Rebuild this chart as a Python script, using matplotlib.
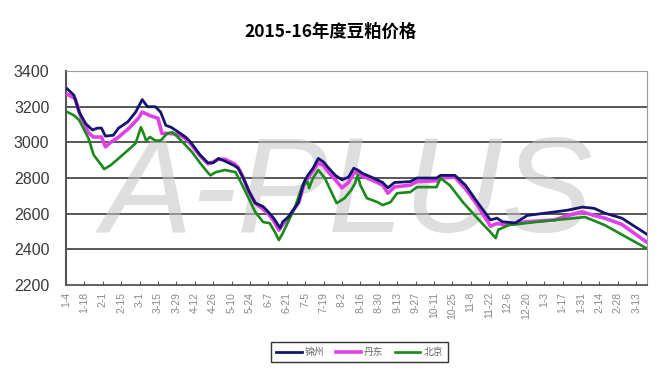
#!/usr/bin/env python3
"""2015-16年度豆粕价格 — three-city soybean meal price lines."""
import matplotlib

matplotlib.use("Agg")

import matplotlib.pyplot as plt  # noqa: E402

plt.rcParams["font.family"] = ["Liberation Sans", "Noto Sans CJK SC", "DejaVu Sans"]

# x values are day offsets from 1-4
TICK_LABELS = ["1-4", "1-18", "2-1", "2-15", "3-1", "3-15", "3-29", "4-12",
               "4-26", "5-10", "5-24", "6-7", "6-21", "7-5", "7-19", "8-2",
               "8-16", "8-30", "9-13", "9-27", "10-11", "10-25", "11-8",
               "11-22", "12-6", "12-20", "1-3", "1-17", "1-31", "2-14",
               "2-28", "3-13"]
TICK_DAYS = [14 * i for i in range(len(TICK_LABELS))]

JZ_DAYS = [1, 6, 10, 15, 20, 24, 27, 30, 36, 40, 47, 53, 58, 62, 68, 72, 76,
           80, 87, 91, 95, 102, 108, 112, 116, 121, 128, 131, 135, 139, 144,
           150, 154, 158, 163, 165, 169, 173, 177, 181, 184, 188, 192, 196,
           200, 205, 210, 215, 219, 222, 226, 234, 241, 245, 250, 262, 267,
           282, 285, 296, 304, 313, 323, 328, 332, 342, 351, 372, 382, 393,
           402, 410, 423, 442]
JZ_VALS = [3300, 3265, 3170, 3105, 3070, 3080, 3080, 3035, 3040, 3080, 3115,
           3170, 3240, 3200, 3200, 3170, 3095, 3085, 3050, 3030, 3000, 2930,
           2885, 2885, 2910, 2895, 2870, 2855, 2800, 2730, 2660, 2640, 2610,
           2575, 2520, 2555, 2580, 2620, 2665, 2775, 2815, 2855, 2910, 2890,
           2855, 2815, 2790, 2805, 2855, 2845, 2825, 2800, 2775, 2745, 2775,
           2780, 2800, 2800, 2815, 2815, 2760, 2665, 2565, 2575, 2555, 2548,
           2590, 2610, 2620, 2637, 2630, 2603, 2575, 2485]

DD_DAYS = [1, 7, 11, 17, 21, 27, 30, 34, 40, 48, 55, 58, 64, 70, 73, 80, 87,
           91, 95, 102, 108, 112, 116, 121, 128, 131, 135, 139, 144, 150, 154,
           158, 162, 165, 169, 173, 177, 181, 184, 188, 192, 196, 200, 205,
           210, 215, 219, 222, 226, 234, 241, 245, 250, 262, 267, 282, 285,
           296, 304, 313, 323, 328, 332, 342, 351, 372, 382, 393, 402, 410,
           423, 442]
DD_VALS = [3270, 3245, 3150, 3055, 3030, 3030, 2975, 3000, 3030, 3080, 3135,
           3170, 3150, 3135, 3050, 3050, 3040, 3020, 2990, 2925, 2880, 2890,
           2905, 2905, 2880, 2860, 2800, 2725, 2660, 2625, 2600, 2560, 2508,
           2540, 2575, 2620, 2660, 2760, 2800, 2840, 2885, 2870, 2830, 2790,
           2745, 2775, 2830, 2830, 2810, 2785, 2760, 2715, 2750, 2760, 2780,
           2785, 2800, 2805, 2740, 2650, 2530, 2545, 2540, 2545, 2555, 2565,
           2590, 2610, 2590, 2575, 2540, 2440]

BJ_DAYS = [1, 6, 10, 17, 21, 27, 29, 34, 40, 47, 53, 55, 57, 59, 61, 64, 68,
           72, 77, 81, 85, 89, 96, 102, 108, 110, 114, 121, 129, 133, 139, 144,
           150, 155, 159, 162, 165, 169, 174, 180, 184, 185, 188, 192, 197,
           202, 206, 212, 217, 220, 222, 224, 229, 237, 241, 247, 252, 262,
           267, 282, 285, 292, 302, 313, 323, 327, 329, 337, 357, 372, 395,
           410, 442]
BJ_VALS = [3170, 3152, 3125, 3025, 2930, 2872, 2850, 2872, 2910, 2955, 2995,
           3040, 3085, 3050, 3010, 3030, 3010, 3010, 3050, 3057, 3030, 3000,
           2945, 2885, 2830, 2815, 2833, 2845, 2833, 2777, 2687, 2610, 2553,
           2547, 2497, 2452, 2491, 2553, 2631, 2760, 2777, 2743, 2800, 2845,
           2800, 2721, 2659, 2687, 2732, 2770, 2816, 2760, 2687, 2665, 2648,
           2665, 2715, 2721, 2749, 2749, 2799, 2760, 2665, 2575, 2497, 2463,
           2510, 2536, 2553, 2564, 2581, 2536, 2405]

SERIES = ["锦州", "丹东", "北京"]
Y_TICKS = [2200, 2400, 2600, 2800, 3000, 3200, 3400]


def main() -> int:
    fig = plt.figure(figsize=(6.62, 3.76), dpi=100)
    ax = fig.add_axes([0.0997, 0.242, 0.8773, 0.569])

    ax.set_xlim(0, 442)
    ax.set_ylim(2200, 3400)
    ax.set_yticks(Y_TICKS)
    ax.set_yticklabels([str(v) for v in Y_TICKS], fontsize=11.5, color="#3a3a3a")
    ax.set_xticks(TICK_DAYS)
    ax.set_xticklabels(TICK_LABELS, rotation=90, fontsize=7.5, color="#8a8a8a")
    ax.tick_params(axis="y", length=0, pad=12)
    ax.tick_params(axis="x", direction="in", length=3, color="#555555", pad=5)

    for v in Y_TICKS[1:-1]:
        ax.axhline(v, color="#3a3a3a", lw=1.2, zorder=1)
    for side in ("top", "right"):
        ax.spines[side].set_color("#9a9a9a")
    ax.spines["left"].set_color("#555555")
    ax.spines["bottom"].set_color("#555555")
    ax.spines["left"].set_linewidth(1.5)
    ax.spines["bottom"].set_linewidth(1.3)

    # faint watermark
    ax.text(0.485, 0.41, "A-PLUS", transform=ax.transAxes, ha="center",
            va="center", fontsize=98, style="italic", color="#c4c4c4",
            alpha=0.55, family="Liberation Sans", zorder=1.5)

    ax.plot(DD_DAYS, DD_VALS, color="#e040e8", lw=2.6, zorder=3, label=SERIES[1])
    ax.plot(BJ_DAYS, BJ_VALS, color="#1a8a1a", lw=1.9, zorder=4, label=SERIES[2])
    ax.plot(JZ_DAYS, JZ_VALS, color="#15156e", lw=2.0, zorder=5, label=SERIES[0])

    handles, labels = ax.get_legend_handles_labels()
    order = [2, 0, 1]
    leg = fig.legend([handles[i] for i in order], [labels[i] for i in order],
                     loc="center", bbox_to_anchor=(0.543, 0.064), ncol=3,
                     frameon=True, fancybox=False, shadow=False,
                     handlelength=2.6, handletextpad=0.3, columnspacing=1.2,
                     borderpad=0.5,
                     prop={"family": ["Noto Sans CJK SC"], "size": 7})
    leg.get_frame().set_edgecolor("black")
    leg.get_frame().set_linewidth(1.0)
    for t in leg.get_texts():
        t.set_color("#666666")

    fig.text(0.5, 0.915, "2015-16年度豆粕价格", ha="center", va="center",
             fontsize=12.5, fontweight="bold",
             family=["Noto Sans CJK SC", "DejaVu Sans"])

    fig.savefig("out.png", dpi=100)
    plt.close(fig)
    return 0


if __name__ == "__main__":
    raise SystemExit(main())
